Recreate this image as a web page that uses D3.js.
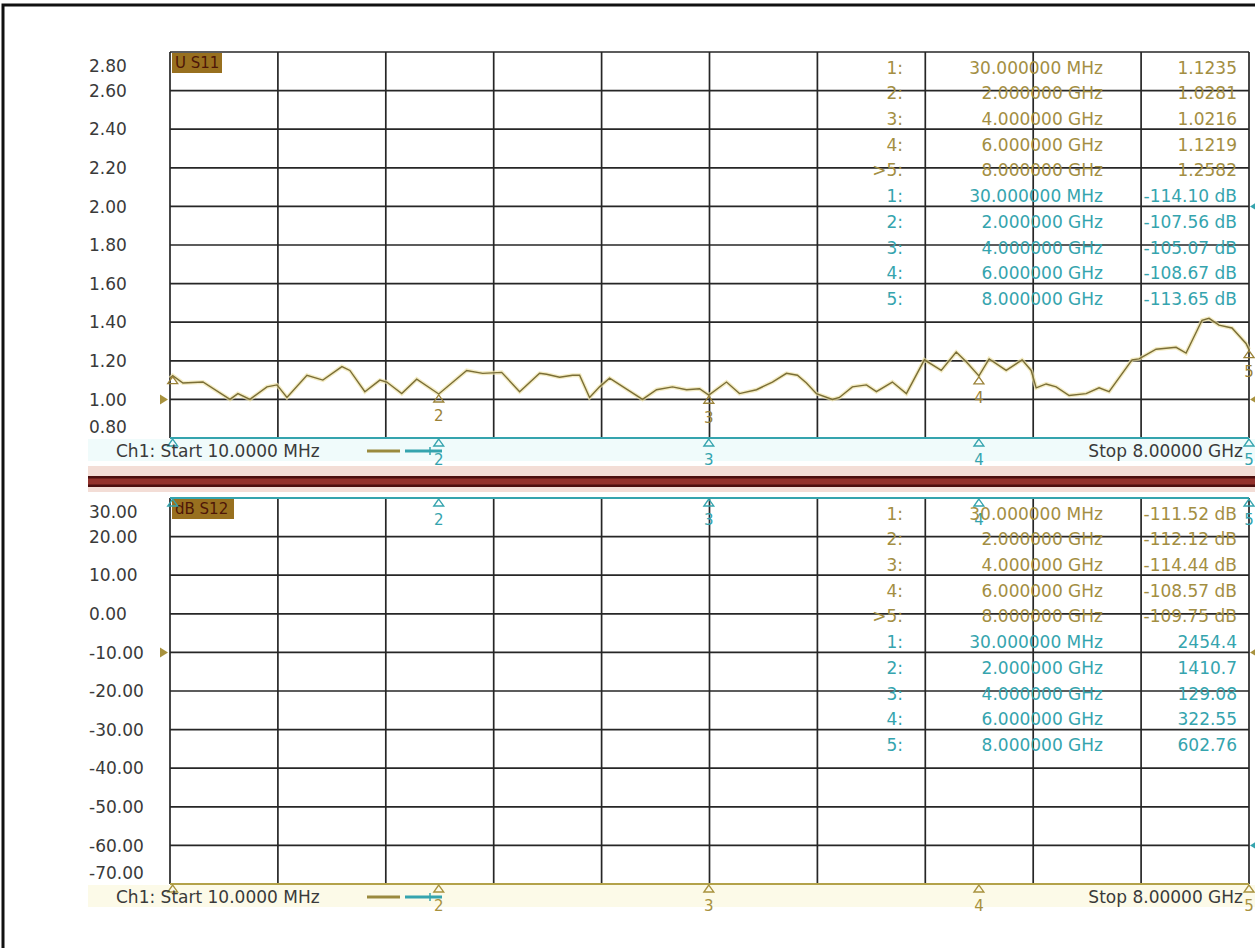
<!DOCTYPE html>
<html><head><meta charset="utf-8">
<script src="https://cdn.jsdelivr.net/npm/d3@7"></script>
<style>
body{margin:0;background:#fff}
svg{display:block}
text{font-family:"DejaVu Sans",sans-serif}
</style>
</head><body>
<svg id="c" width="1255" height="948"></svg>
<script>
// ---------------- data ----------------
const traceFreqGHz = [0.01,0.03,0.106,0.254,0.454,0.513,0.602,0.728,0.802,0.876,1.024,1.142,1.283,1.342,1.453,1.564,1.615,1.726,1.837,2.0,2.207,2.326,2.466,2.599,2.747,2.799,2.895,2.991,3.043,3.117,3.191,3.265,3.509,3.613,3.731,3.835,3.931,4.0,4.131,4.227,4.353,4.471,4.575,4.656,4.723,4.797,4.915,4.967,5.063,5.167,5.241,5.359,5.463,5.596,5.721,5.832,5.906,6.0,6.076,6.202,6.32,6.387,6.424,6.498,6.572,6.668,6.794,6.89,6.964,7.134,7.186,7.312,7.46,7.534,7.652,7.704,7.778,7.874,7.978,8.0];
const traceVSWR = [1.11,1.1235,1.085,1.09,1.00,1.03,1.00,1.065,1.075,1.01,1.125,1.10,1.17,1.15,1.04,1.10,1.09,1.03,1.105,1.028,1.15,1.135,1.14,1.04,1.135,1.13,1.115,1.125,1.125,1.01,1.065,1.11,1.00,1.05,1.065,1.05,1.055,1.022,1.09,1.03,1.05,1.09,1.135,1.125,1.085,1.03,1.00,1.01,1.065,1.075,1.04,1.09,1.03,1.205,1.15,1.245,1.195,1.122,1.21,1.15,1.205,1.15,1.06,1.08,1.065,1.02,1.03,1.06,1.04,1.205,1.21,1.26,1.27,1.24,1.41,1.42,1.385,1.37,1.29,1.258];

const markerFreqGHz = [0.03, 2, 4, 6, 8];
const markerFreqText = ["30.000000 MHz","2.000000 GHz","4.000000 GHz","6.000000 GHz","8.000000 GHz"];
const markerIds = ["1:","2:","3:","4:",">5:"];
const markerIdsB = ["1:","2:","3:","4:","5:"];

const topAValues = [1.1235, 1.0281, 1.0216, 1.1219, 1.2582];
const topAText = ["1.1235","1.0281","1.0216","1.1219","1.2582"];
const topBValues = [-114.10, -107.56, -105.07, -108.67, -113.65];
const topBText = ["-114.10 dB","-107.56 dB","-105.07 dB","-108.67 dB","-113.65 dB"];
const botAValues = [-111.52, -112.12, -114.44, -108.57, -109.75];
const botAText = ["-111.52 dB","-112.12 dB","-114.44 dB","-108.57 dB","-109.75 dB"];
const botBValues = [2454.4, 1410.7, 129.08, 322.55, 602.76];
const botBText = ["2454.4","1410.7","129.08","322.55","602.76"];

const topTicks = [2.8,2.6,2.4,2.2,2.0,1.8,1.6,1.4,1.2,1.0,0.8];
const botTicks = [30,20,10,0,-10,-20,-30,-40,-50,-60,-70];
const xStartGHz = 0.01, xStopGHz = 8;
const topRefA = 1.0, topRefB = 2.0, botRefA = -10, botRefB = -60;

// ---------------- styling ----------------
const OLIVE = "#7a6e36", OLIVE_T = "#a38e42", TEAL = "#35a4ae", GRID = "#262626", LBL = "#3a3a3a";
const svg = d3.select("#c");

// outer frame
svg.append("path").attr("d","M3,948V5H1255").attr("fill","none").attr("stroke","#111").attr("stroke-width",3);

const x = d3.scaleLinear().domain([xStartGHz, xStopGHz]).range([170, 1249]);

function panel(o){
  const g = svg.append("g");
  const yA = d3.scaleLinear().domain(o.domA).range([o.bottom, o.top]).clamp(true);
  const yB = d3.scaleLinear().domain(o.domB).range([o.bottom, o.top]).clamp(true);
  // grid
  const xt = d3.range(0, 11).map(i => xStartGHz + i*(xStopGHz - xStartGHz)/10);
  g.selectAll(".vg").data(xt).join("line")
    .attr("x1",d=>x(d)).attr("x2",d=>x(d)).attr("y1",o.top).attr("y2",o.bottom)
    .attr("stroke",GRID).attr("stroke-width",1.7);
  g.selectAll(".hg").data(o.ticks).join("line")
    .attr("x1",x(xStartGHz)).attr("x2",x(xStopGHz)).attr("y1",d=>yA(d)).attr("y2",d=>yA(d))
    .attr("stroke",GRID).attr("stroke-width",1.7);
  // tick labels
  g.selectAll(".tl").data(o.ticks).join("text")
    .attr("x",89).attr("y",d=>Math.min(Math.max(yA(d), o.top+14), o.bottom-11)).attr("dy","0.36em")
    .attr("font-size",17).attr("fill",LBL).text(d=>d.toFixed(2));
  // trace name box
  g.append("rect").attr("x",172).attr("y",o.top+1).attr("width",o.nameW).attr("height",20).attr("fill","#98701f");
  g.append("text").attr("x",175).attr("y",o.top+11).attr("dy","0.36em").attr("font-size",15).attr("fill","#4e1608").text(o.name);

  // reference arrows
  const tri = (cx, cy, dir, col) => {
    const p = dir > 0 ? `M${cx-8},${cy-5}L${cx},${cy}L${cx-8},${cy+5}Z` : `M${cx+8},${cy-5}L${cx},${cy}L${cx+8},${cy+5}Z`;
    g.append("path").attr("d",p).attr("fill",col);
  };
  o.refs.forEach(r => tri(r.side < 0 ? 168 : 1250, r.scale(r.v), r.side < 0 ? 1 : -1, r.col));

  // traces
  const line = d3.line();
  o.traces.forEach(t => {
    const pts = t.f.map((f,i)=>[x(f), t.scale(t.v[i])]);
    if (t.glow) g.append("path").attr("d",line(pts)).attr("fill","none").attr("stroke","#eee3a8").attr("stroke-width",4).attr("opacity",0.7);
    g.append("path").attr("d",line(pts)).attr("fill","none").attr("stroke",t.col).attr("stroke-width",t.w);
    // markers
    markerFreqGHz.forEach((f,i) => {
      const mx = x(f), my = t.scale(t.mv[i]);
      const dir = t.labelDir || 1;
      g.append("path").attr("d",`M${mx},${my+1*dir}L${mx-5},${my+8*dir}L${mx+5},${my+8*dir}Z`)
        .attr("fill","none").attr("stroke",t.mcol).attr("stroke-width",1.3);
      if (i > 0) g.append("text").attr("x",mx).attr("y",my+22*dir).attr("dy","0.36em").attr("text-anchor","middle")
        .attr("font-size",15).attr("fill",t.mcol).text(i+1);
    });
  });

  // marker table
  const rows = [];
  markerFreqGHz.forEach((f,i)=>rows.push({id:markerIds[i], f:markerFreqText[i], v:o.tabA[i], col:OLIVE_T}));
  markerFreqGHz.forEach((f,i)=>rows.push({id:markerIdsB[i], f:markerFreqText[i], v:o.tabB[i], col:TEAL}));
  const rowY = i => o.top + 15.5 + i*25.7;
  const tg = g.append("g").attr("font-size",17);
  rows.forEach((r,i)=>{
    tg.append("text").attr("x",903).attr("y",rowY(i)).attr("dy","0.36em").attr("text-anchor","end").attr("fill",r.col).text(r.id);
    tg.append("text").attr("x",1103).attr("y",rowY(i)).attr("dy","0.36em").attr("text-anchor","end").attr("fill",r.col).text(r.f);
    tg.append("text").attr("x",1237).attr("y",rowY(i)).attr("dy","0.36em").attr("text-anchor","end").attr("fill",r.col).text(r.v);
  });

  // bottom band
  g.insert("rect",":first-child").attr("x",88).attr("y",o.bottom+1).attr("width",1167).attr("height",22).attr("fill",o.band);
  const by = o.bottom + 13;
  g.append("text").attr("x",116).attr("y",by).attr("dy","0.36em").attr("font-size",17).attr("fill",LBL).text("Ch1: Start  10.0000 MHz");
  g.append("text").attr("x",1243).attr("y",by).attr("dy","0.36em").attr("text-anchor","end").attr("font-size",17).attr("fill",LBL).text("Stop 8.00000 GHz");
  g.append("line").attr("x1",367).attr("x2",400).attr("y1",by).attr("y2",by).attr("stroke","#9a8a3e").attr("stroke-width",3);
  g.append("line").attr("x1",405).attr("x2",442).attr("y1",by).attr("y2",by).attr("stroke",TEAL).attr("stroke-width",3);
  g.append("line").attr("x1",430).attr("x2",430).attr("y1",by-4).attr("y2",by+4).attr("stroke",TEAL).attr("stroke-width",1.5);
}

panel({
  top:52, bottom:438, domA:[0.8,2.8], domB:[-70,30], ticks:topTicks, name:"U S11", nameW:50,
  band:"#f0fbfb",
  tabA: topAText, tabB: topBText,
  refs:[],
  traces:[]
});

// build panels with traces (scales needed inside, so define via helper)
svg.selectAll("*").remove();
svg.append("path").attr("d","M3,948V5H1255").attr("fill","none").attr("stroke","#111").attr("stroke-width",3);

function mk(top, bottom, domA, domB){
  return {
    yA: d3.scaleLinear().domain(domA).range([bottom, top]).clamp(true),
    yB: d3.scaleLinear().domain(domB).range([bottom, top]).clamp(true)
  };
}
const s1 = mk(52, 438, [0.8,2.8], [-70,30]);
const s2 = mk(498, 884, [-70,30], [0.8,2.8]);

// separator between the two channels
const sep = svg.append("g");
sep.append("rect").attr("x",88).attr("y",466).attr("width",1167).attr("height",10).attr("fill","#f3ddd6");
sep.append("rect").attr("x",88).attr("y",476).attr("width",1167).attr("height",11).attr("fill","#93322c");
sep.append("rect").attr("x",88).attr("y",476).attr("width",1167).attr("height",2.5).attr("fill","#4c0f0f");
sep.append("rect").attr("x",88).attr("y",484.5).attr("width",1167).attr("height",2.5).attr("fill","#4c0f0f");
sep.append("rect").attr("x",88).attr("y",487).attr("width",1167).attr("height",5).attr("fill","#f3ddd6");

panel({
  top:52, bottom:438, domA:[0.8,2.8], domB:[-70,30], ticks:topTicks, name:"U S11", nameW:50,
  band:"#f0fbfb", tabA: topAText, tabB: topBText,
  refs:[{v:topRefA, scale:s1.yA, side:-1, col:"#a8923e"},{v:topRefA, scale:s1.yA, side:1, col:"#a8923e"},{v:topRefB, scale:d3.scaleLinear().domain([0.8,2.8]).range([438,52]), side:1, col:TEAL}],
  traces:[
    {f:[xStartGHz].concat(markerFreqGHz), v:[topBValues[0]].concat(topBValues), scale:s1.yB, col:TEAL, w:2.2, mv:topBValues, mcol:TEAL},
    {f:traceFreqGHz, v:traceVSWR, scale:s1.yA, col:OLIVE, w:1.4, glow:true, mv:topAValues, mcol:"#9a8238"}
  ]
});
panel({
  top:498, bottom:884, domA:[-70,30], domB:[0.8,2.8], ticks:botTicks, name:"dB S12", nameW:62,
  band:"#fcfae8", tabA: botAText, tabB: botBText,
  refs:[{v:botRefA, scale:s2.yA, side:-1, col:"#a8923e"},{v:botRefA, scale:s2.yA, side:1, col:"#a8923e"},{v:botRefB, scale:s2.yA, side:1, col:TEAL}],
  traces:[
    {f:[xStartGHz].concat(markerFreqGHz), v:[botBValues[0]].concat(botBValues), scale:s2.yB, col:TEAL, w:2.2, mv:botBValues, mcol:TEAL},
    {f:[xStartGHz].concat(markerFreqGHz), v:[botAValues[0]].concat(botAValues), scale:s2.yA, col:"#b3a24a", w:2.2, mv:botAValues, mcol:"#a8923e"}
  ]
});
</script>
</body></html>
